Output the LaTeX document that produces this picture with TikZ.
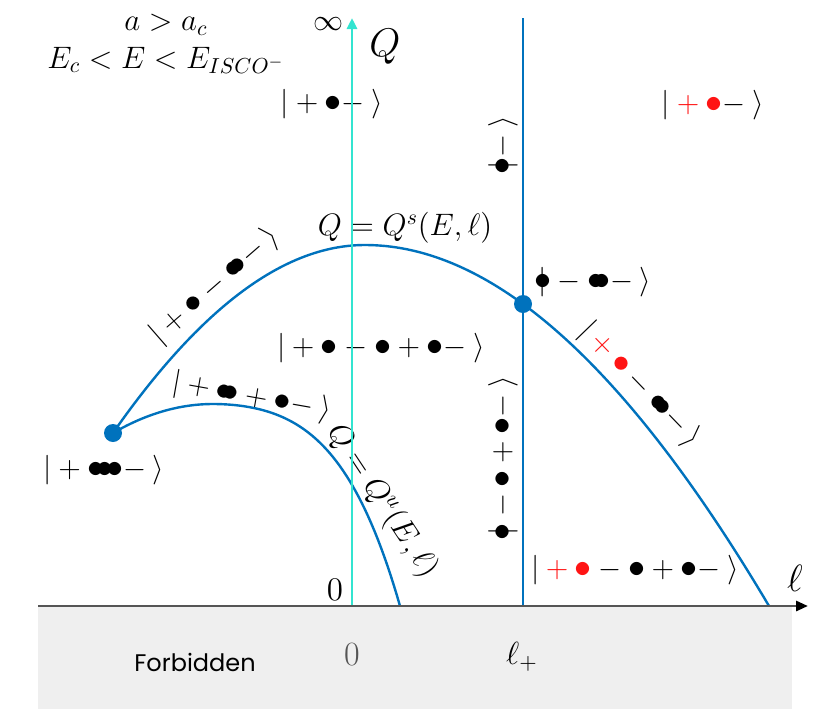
\RequirePackage{fix-cm}
\documentclass[tikz,border=0pt]{standalone}
\usepackage{fontspec}
\newfontfamily\forbfont{Poppins}
\usetikzlibrary{arrows.meta}
\definecolor{qblue}{RGB}{0,114,189}
\definecolor{qcyan}{RGB}{50,228,208}
\definecolor{qred}{RGB}{255,20,20}
\definecolor{qgray}{RGB}{239,239,239}
\definecolor{axgray}{RGB}{85,85,85}
\newcommand{\B}{\mathord{\vcenter{\hbox{\scalebox{1.15}{$\bullet$}}}}}
\newcommand{\bbul}{\mathord{\B\kern-0.385em\B}}
\newcommand{\bbbul}{\mathord{\B\kern-0.255em\B\kern-0.255em\B}}
\newcommand{\vbul}{\mathord{\vert\kern-0.4265em\B}}
\newcommand{\rplus}{\mathbin{\color{qred}+}}
\newcommand{\rbul}{{\color{qred}\B}}
\newcommand{\rk}{\mkern4mu\rangle}
\begin{document}
\begin{tikzpicture}[x=0.5pt,y=-0.5pt,
  ket/.style={inner sep=0pt, font=\fontsize{14.8}{18}\selectfont},
  lab/.style={inner sep=0pt, font=\fontsize{15.5}{18}\selectfont},
  curve/.style={qblue, line width=1.2pt},
  bdot/.style={circle, fill=qblue, inner sep=0pt, minimum size=9pt},
  axisline/.style={axgray, line width=1.4pt, -{Triangle[length=6pt,width=5pt,color=black]}},
  cyanline/.style={qcyan, line width=1.4pt, -{Triangle[length=5.5pt,width=5pt]}},
  bline/.style={qblue, line width=1.2pt}]
\useasboundingbox (0,0) rectangle (830,719);
\fill[qgray] (38,607) rectangle (792,709);

% coordinates
\coordinate (axL) at (38,606);
\coordinate (axR) at (808,606);
\coordinate (c0) at (352,606);
\coordinate (cTop) at (352,18);
\coordinate (b0) at (523,606);
\coordinate (bTop) at (523,18);
\coordinate (P) at (113,433);
\coordinate (R) at (523,304);

% curve Q = Q^s (through P and R)
\draw[curve] plot[domain=-2.52:0, samples=60] ({365+100*\x}, {245+32*\x*\x+0.956*\x*\x*\x})
  -- plot[domain=0:4.04, samples=80] ({365+100*\x}, {245+24.6*\x*\x-0.615*\x*\x*\x});
% curve Q = Q^u (from P)
\draw[curve] plot[domain=-1:0, samples=40] ({213+100*\x}, {404+29*\x*\x})
  -- plot[domain=0:1.87, samples=60] ({213+100*\x}, {404+22.2*\x*\x+10.17*\x*\x*\x*\x});

% texts
\node[lab] (t1) at (166,25) {$a>a_c$};
\node[lab] (t2) at (166,60) {$E_c<E<E_{ISCO^-}$};
\node[inner sep=0pt, font=\fontsize{15}{18}\selectfont] (inf) at (328,24) {$\infty$};
\node[inner sep=0pt, font=\fontsize{20}{24}\selectfont] (Q) at (385,47) {$Q$};
\node[lab] (Qs) at (405,228) {$Q=Q^s(E,\ell)$};
\node[lab, rotate=-56.5] (Qu) at (382,501) {$Q=Q^u(E,\ell)$};
\node[inner sep=0pt, font=\fontsize{16.5}{19}\selectfont] (z1) at (335,590) {$0$};
\node[inner sep=0pt, font=\fontsize{19}{22}\selectfont] (ell) at (795,578) {$\ell$};
\node[inner sep=0pt, font=\fontsize{17}{20}\selectfont, text=axgray] (z2) at (352,655) {$0$};
\node[inner sep=0pt, font=\fontsize{16}{19}\selectfont] (lp) at (522,657) {$\ell_+$};
\node[inner sep=0pt, font=\forbfont\fontsize{12}{14}\selectfont] (forb) at (195,662) {Forbidden};

\node[ket] (k1) at (332,104) {$\vert+\B-\rk$};
\node[ket] (k2) at (713,105) {$\vert\rplus\rbul-\rk$};
\node[ket, rotate=90] (k3) at (503,143) {$\vbul-\rk$};
\node[ket] (k4) at (595,282) {$\vbul-\bbul-\rk$};
\node[ket, rotate=41] (k5) at (215,286) {$\vert+\B-\bbul-\rk$};
\node[ket, rotate=-10] (k6) at (252,397) {$\vert+\bbul+\B-\rk$};
\node[ket] (k9) at (381,348) {$\vert+\B-\B+\B-\rk$};
\node[ket] (k10) at (104,470) {$\vert+\bbbul-\rk$};
\node[ket, rotate=-46] (k11) at (640,385) {$\vert\rplus\rbul-\bbul-\rk$};
\node[ket, rotate=90] (k12) at (503,456) {$\vbul-\B+\B-\rk$};
\node[ket] (k13) at (635,570) {$\vert\rplus\rbul-\B+\B-\rk$};

% lines
\draw[bline] (b0) -- (bTop);
\draw[cyanline] (c0) -- (cTop);
\draw[axisline] (axL) -- (axR);

% dots
\node[bdot] (dP) at (P) {};
\node[bdot] (dR) at (R) {};
\end{tikzpicture}
\end{document}
